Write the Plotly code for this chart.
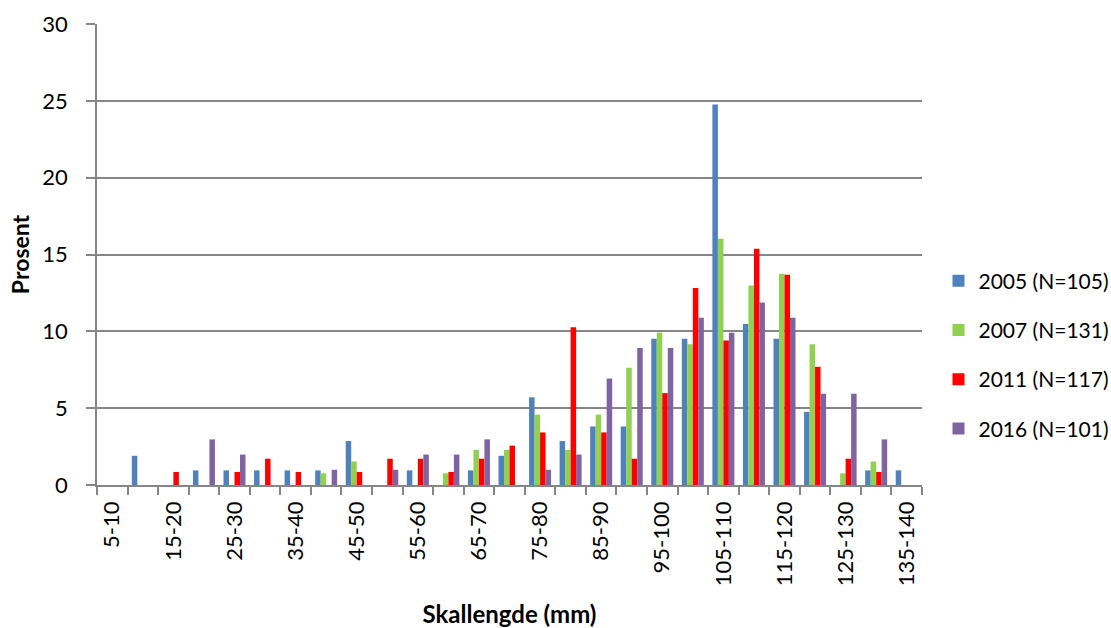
import plotly.graph_objects as go

# Shell length classes (mm)
categories = ["5-10", "10-15", "15-20", "20-25", "25-30", "30-35", "35-40", "40-45",
              "45-50", "50-55", "55-60", "60-65", "65-70", "70-75", "75-80", "80-85",
              "85-90", "90-95", "95-100", "100-105", "105-110", "110-115", "115-120",
              "120-125", "125-130", "130-135", "135-140"]

# Percentage of individuals per length class
pct_2005 = [0, 1.90, 0, 0.95, 0.95, 0.95, 0.95, 0.95, 2.86, 0, 0.95, 0, 0.95, 1.90,
            5.71, 2.86, 3.81, 3.81, 9.52, 9.52, 24.76, 10.48, 9.52, 4.76, 0, 0.95, 0.95]
pct_2007 = [0, 0, 0, 0, 0, 0, 0, 0.76, 1.53, 0, 0, 0.76, 2.29, 2.29,
            4.58, 2.29, 4.58, 7.63, 9.92, 9.16, 16.03, 12.98, 13.74, 9.16, 0.76, 1.53, 0]
pct_2011 = [0, 0, 0.85, 0, 0.85, 1.71, 0.85, 0, 0.85, 1.71, 1.71, 0.85, 1.71, 2.56,
            3.42, 10.26, 3.42, 1.71, 5.98, 12.82, 9.40, 15.38, 13.68, 7.69, 1.71, 0.85, 0]
pct_2016 = [0, 0, 0, 2.97, 1.98, 0, 0, 0.99, 0, 0.99, 1.98, 1.98, 2.97, 0,
            0.99, 1.98, 6.93, 8.91, 8.91, 10.89, 9.90, 11.88, 10.89, 5.94, 5.94, 2.97, 0]

series_names = ["2005 (N=105)", "2007 (N=131)", "2011 (N=117)", "2016 (N=101)"]
series_values = [pct_2005, pct_2007, pct_2011, pct_2016]
series_colors = ["#4F81BD", "#92D050", "#FF0000", "#8064A2"]

# Label every other class on the x axis
tick_text = [c if i % 2 == 0 else "" for i, c in enumerate(categories)]

FONT = "Lato, Open Sans, sans-serif"
GREY = "#868686"

fig = go.Figure()
for name, vals, col in zip(series_names, series_values, series_colors):
    fig.add_trace(go.Bar(
        x=categories, y=vals, name=name, legendgroup=name,
        marker=dict(color=col, line=dict(width=0)),
    ))

fig.update_layout(
    width=1111, height=628,
    margin=dict(l=97, r=189, t=24, b=143, autoexpand=False),
    paper_bgcolor="white", plot_bgcolor="white",
    barmode="group", bargap=0.28, bargroupgap=0,
    font=dict(family=FONT, color="black"),
    legend=dict(
        x=1.02, y=0.282, xanchor="left", yanchor="middle",
        font=dict(size=21, family=FONT),
        itemwidth=30, tracegroupgap=19,
        bgcolor="rgba(0,0,0,0)",
    ),
    showlegend=True,
)

fig.update_xaxes(
    type="category",
    tickmode="array", tickvals=categories, ticktext=tick_text,
    tickangle=-90, tickfont=dict(size=22, family=FONT),
    ticks="outside", ticklen=8, tickcolor=GREY, tickwidth=1.5,
    tickson="boundaries", ticklabelstandoff=6,
    showline=True, linecolor=GREY, linewidth=1.5,
    showgrid=False,
    title=dict(text="<b>Skallengde (mm)</b>", font=dict(size=24, family=FONT), standoff=24),
)

fig.update_yaxes(
    range=[0, 30], tickvals=[0, 5, 10, 15, 20, 25, 30],
    tickfont=dict(size=22, family=FONT),
    ticks="outside", ticklen=9, tickcolor=GREY, tickwidth=1.5,
    ticklabelstandoff=14,
    showline=True, linecolor=GREY, linewidth=1.5,
    showgrid=True, gridcolor=GREY, gridwidth=1.5,
    zeroline=False,
    title=dict(text="<b>Prosent</b>", font=dict(size=23, family=FONT), standoff=6),
)

fig.write_html("out.html")
